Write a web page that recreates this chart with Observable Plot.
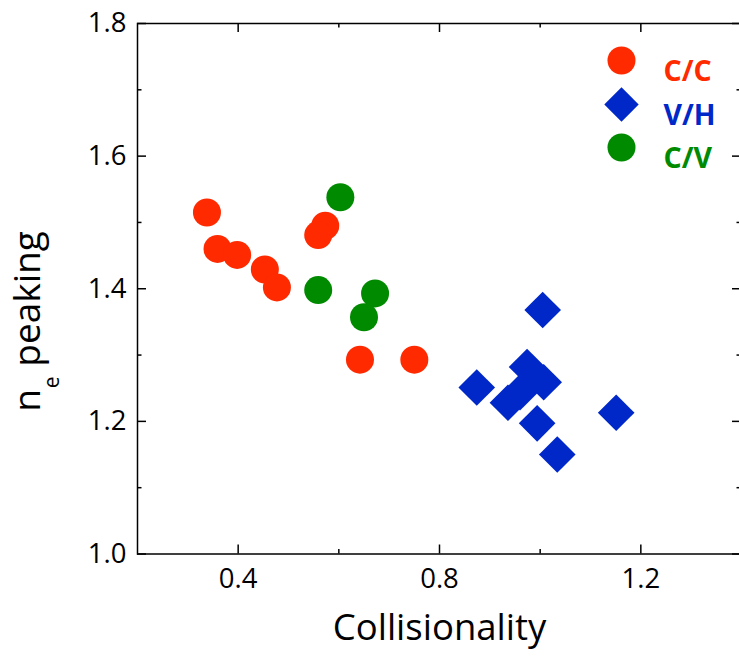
<!DOCTYPE html>
<html>
<head>
<meta charset="utf-8">
<script src="https://cdn.jsdelivr.net/npm/d3@7"></script>
<script src="https://cdn.jsdelivr.net/npm/@observablehq/plot@0.6"></script>
<style>
  html, body { margin: 0; padding: 0; background: #fff; overflow: hidden; }
  #chart svg { display: block; }
</style>
</head>
<body>
<div id="chart"></div>
<script>
// ---- data ----
const seriesNames = ["C/C", "V/H", "C/V"];
const seriesColors = ["#ff2a00", "#0028c8", "#008a00"];

const ccX = [0.338, 0.359, 0.398, 0.453, 0.477, 0.573, 0.559, 0.642, 0.750];
const ccY = [1.515, 1.460, 1.451, 1.429, 1.402, 1.495, 1.481, 1.293, 1.293];

const vhX = [1.005, 0.874, 1.151, 0.994, 1.034, 0.974, 1.007, 0.936, 0.960];
const vhY = [1.368, 1.251, 1.213, 1.197, 1.150, 1.282, 1.259, 1.228, 1.244];

const cvX = [0.603, 0.559, 0.672, 0.650];
const cvY = [1.538, 1.398, 1.393, 1.357];

const xMajor = [0.4, 0.8, 1.2];
const xMinor = [0.6, 1.0];
const yMajor = [1.0, 1.2, 1.4, 1.6, 1.8];
const yMinor = [1.1, 1.3, 1.5, 1.7];

const xTitle = "Collisionality";

// ---- build tables ----
const toRows = (xs, ys, s) => xs.map((x, i) => ({x, y: ys[i], s}));
const cc = toRows(ccX, ccY, seriesNames[0]);
const vh = toRows(vhX, vhY, seriesNames[1]);
const cv = toRows(cvX, cvY, seriesNames[2]);

// ---- layout ----
const W = 741, H = 658;
const mL = 137, mT = 23, mB = 104.5, mR = 0;
const frameH = H - mT - mB;
const frameW = W - mL - mR;
const majorLen = 9, minorLen = 4.5;
const tickStyle = {stroke: "black", strokeWidth: 1.5};
const tickFont = 27.5;

const legendItem = (i, symbol, r, dy) => [
  Plot.dot([seriesNames[i]], {frameAnchor: "top-right", dx: -120, dy, r, symbol, fill: seriesColors[i]}),
  Plot.text([seriesNames[i]], {text: d => d, frameAnchor: "top-right", dx: -78, dy, textAnchor: "start",
    fill: seriesColors[i], fontWeight: "bold", fontSize: 28.5})
];

const chart = Plot.plot({
  width: W, height: H,
  marginLeft: mL, marginTop: mT, marginBottom: mB, marginRight: mR,
  style: {fontFamily: "'Open Sans', sans-serif", fontSize: "26px", color: "black", background: "white"},
  x: {domain: [0.2, 1.4]},
  y: {domain: [1.0, 1.8]},
  marks: [
    Plot.frame({stroke: "black", strokeWidth: 1.5}),
    // inward ticks: bottom / top
    Plot.tickX(xMajor, {x: d => d, insetTop: frameH - majorLen, ...tickStyle}),
    Plot.tickX(xMinor, {x: d => d, insetTop: frameH - minorLen, ...tickStyle}),
    Plot.tickX(xMajor, {x: d => d, insetBottom: frameH - majorLen, ...tickStyle}),
    Plot.tickX(xMinor, {x: d => d, insetBottom: frameH - minorLen, ...tickStyle}),
    // inward ticks: left / right
    Plot.tickY(yMajor, {y: d => d, insetRight: frameW - majorLen, ...tickStyle}),
    Plot.tickY(yMinor, {y: d => d, insetRight: frameW - minorLen, ...tickStyle}),
    Plot.tickY(yMajor, {y: d => d, insetLeft: frameW - majorLen, ...tickStyle}),
    Plot.tickY(yMinor, {y: d => d, insetLeft: frameW - minorLen, ...tickStyle}),
    // tick labels
    Plot.axisX(xMajor, {anchor: "bottom", tickSize: 0, tickPadding: 14, label: null, tickFormat: d3.format(".1f"), fontSize: tickFont}),
    Plot.axisY(yMajor, {anchor: "left", tickSize: 0, tickPadding: 11, label: null, tickFormat: d3.format(".1f"), fontSize: tickFont}),
    // x title
    Plot.text([xTitle], {text: d => d, frameAnchor: "bottom", dy: 86, fontSize: 36.5}),
    // data
    Plot.dot(cc, {x: "x", y: "y", r: 14, fill: seriesColors[0], symbol: "circle"}),
    Plot.dot(cv, {x: "x", y: "y", r: 14, fill: seriesColors[2], symbol: "circle"}),
    Plot.dot(vh, {x: "x", y: "y", r: 16.5, fill: seriesColors[1], symbol: "diamond2"}),
    // legend
    ...legendItem(0, "circle", 14, 37),
    ...legendItem(1, "diamond2", 15.5, 81),
    ...legendItem(2, "circle", 14, 124)
  ]
});

chart.style.maxWidth = "none";
chart.style.overflow = "hidden";

const svg = d3.select(chart);
// make sure the tick labels carry the intended size
svg.selectAll("g[aria-label='x-axis tick label'], g[aria-label='y-axis tick label']")
  .attr("font-size", tickFont)
  .selectAll("text").style("font-size", tickFont + "px");

// y title with subscript: n_e peaking
const yt = svg.append("text")
  .attr("transform", "translate(40,321.5) rotate(-90)")
  .attr("text-anchor", "middle")
  .attr("font-family", "'Open Sans', sans-serif")
  .attr("font-size", 37)
  .attr("fill", "black");
yt.append("tspan").text("n");
yt.append("tspan").attr("font-size", 21).attr("dy", 19).attr("dx", 1).text("e");
yt.append("tspan").attr("font-size", 37).attr("dy", -19).text(" peaking");

document.getElementById("chart").appendChild(chart);
</script>
</body>
</html>
